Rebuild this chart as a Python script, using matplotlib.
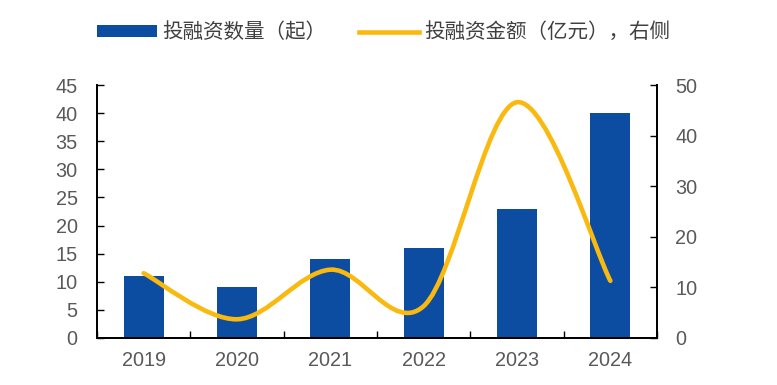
import matplotlib
matplotlib.use('Agg')
import matplotlib.pyplot as plt
from matplotlib.path import Path
from matplotlib.patches import PathPatch, Patch
from matplotlib.lines import Line2D
import numpy as np

plt.rcParams['font.family'] = ['Liberation Sans', 'Noto Sans CJK SC', 'DejaVu Sans']

years = ['2019', '2020', '2021', '2022', '2023', '2024']
deal_count = [11, 9, 14, 16, 23, 40]           # 投融资数量（起）, left axis
deal_amount = [12.8, 3.7, 13.5, 6.3, 46.6, 11.3]  # 投融资金额（亿元）, right axis

BAR_COLOR = '#0D4DA1'
LINE_COLOR = '#F9B90F'
TICK_COLOR = '#595959'
LEGEND_SIZE = 14.8


def smooth_path(xs, ys):
    # Excel-style smoothed line: cubic bezier through every point
    pts = np.column_stack([xs, ys]).astype(float)
    n = len(pts)
    verts = [pts[0]]
    codes = [Path.MOVETO]
    for i in range(n - 1):
        p_prev = pts[i - 1] if i > 0 else pts[i]
        p_next2 = pts[i + 2] if i + 2 < n else pts[i + 1]
        c1 = pts[i] + (pts[i + 1] - p_prev) / 6
        c2 = pts[i + 1] - (p_next2 - pts[i]) / 6
        verts += [c1, c2, pts[i + 1]]
        codes += [Path.CURVE4] * 3
    return Path(verts, codes)


fig = plt.figure(figsize=(7.77, 3.85), dpi=100)
ax = fig.add_axes([0.1248, 0.1221, 0.7208, 0.6571])
ax2 = ax.twinx()

x = np.arange(len(years))
ax.bar(x, deal_count, width=0.43, color=BAR_COLOR, zorder=2)
ax.set_xlim(-0.5, len(years) - 0.5)
ax.set_ylim(0, 45)
ax.set_yticks(range(0, 50, 5))

ax2.set_ylim(0, 50)
ax2.set_yticks(range(0, 60, 10))
ax2.add_patch(PathPatch(smooth_path(x, deal_amount), facecolor='none',
                        edgecolor=LINE_COLOR, lw=3.3, capstyle='round', zorder=3))

ax.set_xticks(x)
ax.set_xticklabels(years)
ax.set_xticks(np.arange(-0.5, len(years), 1), minor=True)
ax.tick_params(axis='x', which='major', length=0, pad=9.5, labelsize=14.3, labelcolor=TICK_COLOR)
ax.tick_params(axis='x', which='minor', direction='in', length=5, width=1, color='black')
ax.tick_params(axis='y', direction='in', length=5, width=1, pad=14, labelsize=14.3,
               labelcolor=TICK_COLOR)
ax2.tick_params(axis='y', direction='in', length=5, width=1, pad=13, labelsize=14.3,
                labelcolor=TICK_COLOR)

for a in (ax, ax2):
    a.spines['top'].set_visible(False)
    for s in ('left', 'right', 'bottom'):
        a.spines[s].set_linewidth(1.3)
        a.spines[s].set_color('black')

em = LEGEND_SIZE * 100 / 72  # px per em
handles = [Patch(facecolor=BAR_COLOR, edgecolor='none'),
           Line2D([], [], color=LINE_COLOR, lw=3.3)]
labels = ['投融资数量（起）', '投融资金额（亿元），右侧']
fig.legend(handles, labels, loc='center left',
           bbox_to_anchor=((97 - 0.4 * em) / 777, 0.916), ncol=2,
           frameon=False, borderaxespad=0, handlelength=60 / em, handleheight=10 / em,
           handletextpad=5 / em, columnspacing=33 / em,
           prop={'family': ['Noto Sans CJK SC', 'DejaVu Sans'], 'size': LEGEND_SIZE},
           labelcolor='#404040')

fig.savefig('out.png', dpi=100)
